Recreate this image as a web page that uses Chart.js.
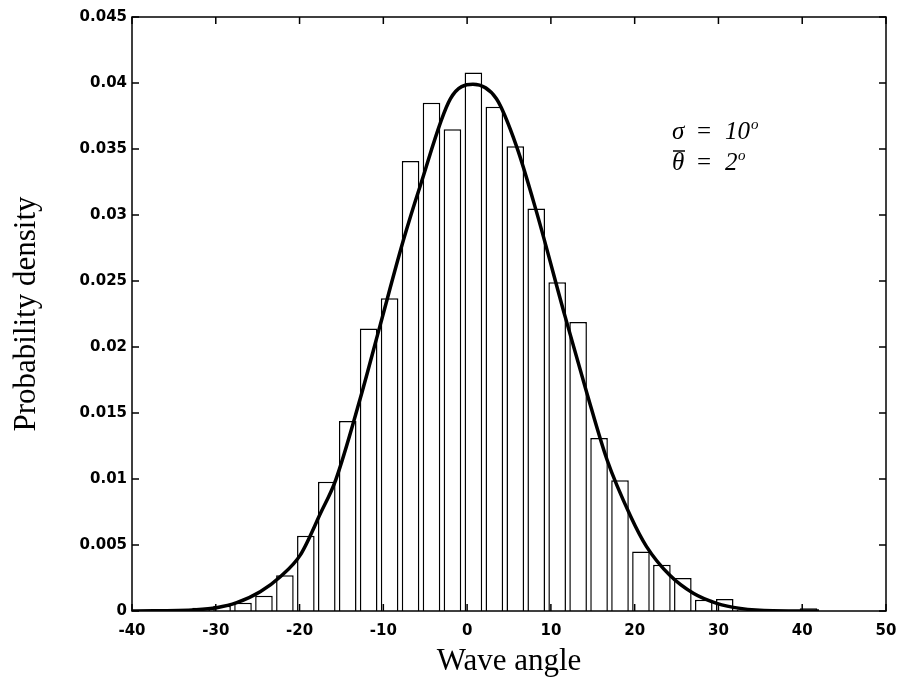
<!DOCTYPE html>
<html>
<head>
<meta charset="utf-8">
<script src="https://cdn.jsdelivr.net/npm/chart.js@4.4.1/dist/chart.umd.min.js"></script>
<style>
  html, body { margin: 0; padding: 0; background: #fff; }
  #wrap { width: 901px; height: 683px; }
</style>
</head>
<body>
<div id="wrap"><canvas id="waveChart" width="901" height="683"></canvas></div>
<script>
// histogram bins (centre of each bin, degrees) and their heights
const binCentres = [-31.75, -29.25, -26.75, -24.25, -21.75, -19.25, -16.75, -14.25, -11.75, -9.25,
                    -6.75, -4.25, -1.75, 0.75, 3.25, 5.75, 8.25, 10.75, 13.25, 15.75,
                    18.25, 20.75, 23.25, 25.75, 28.25, 30.75, 33.25, 35.75, 38.25, 40.75];
const binDensity = [0.00025, 0.0004, 0.00063, 0.00115, 0.0027, 0.0057, 0.0098, 0.0144, 0.0214, 0.0237,
                    0.0341, 0.0385, 0.0365, 0.0408, 0.0382, 0.0352, 0.0305, 0.0249, 0.0219, 0.0131,
                    0.0099, 0.0045, 0.0035, 0.0025, 0.00085, 0.0009, 0.00012, 0.0001, 0.00005, 0.0002];

// fitted curve, points
const curveAngle = [-40, -32.3, -29.9, -27.5, -24.7, -22.3, -19.9, -17.5, -15.7, -12.8, -10.4, -7.6,
                    -5.6, -2.0, 0.7, 3.5, 5.9, 8.3, 11.7, 14.3, 16.7, 19.5, 21.4, 24.2, 27.0,
                    29.8, 32.6, 36.5, 42];
const curveDensity = [0, 0.0001, 0.00025, 0.00063, 0.00146, 0.0026, 0.00425, 0.0074, 0.0099, 0.016,
                      0.0216, 0.0281, 0.0322, 0.0388, 0.0399, 0.0388, 0.0352, 0.0302, 0.0223, 0.0165,
                      0.01146, 0.0072, 0.0049, 0.0027, 0.00134, 0.00058, 0.0002, 0.00002, 0];

// axis ranges
const xTicks = [-40, -30, -20, -10, 0, 10, 20, 30, 40, 50];
const yTicks = [0, 0.005, 0.01, 0.015, 0.02, 0.025, 0.03, 0.035, 0.04, 0.045];

const tickFont = { family: 'DejaVu Sans', size: 15, weight: 'bold' };
const titleFont = { family: 'Liberation Serif', size: 31 };

// box and inward ticks, like the matlab look
const framePlugin = {
    id: 'frame',
    afterDatasetsDraw(chart) {
        const { ctx, chartArea: a, scales: { x, y } } = chart;
        ctx.save();
        ctx.strokeStyle = '#000';
        ctx.lineWidth = 1.5;
        ctx.strokeRect(a.left, a.top, a.right - a.left, a.bottom - a.top);
        ctx.beginPath();
        x.ticks.forEach(t => {
            const px = x.getPixelForValue(t.value);
            ctx.moveTo(px, a.bottom); ctx.lineTo(px, a.bottom - 7);
            ctx.moveTo(px, a.top); ctx.lineTo(px, a.top + 7);
        });
        y.ticks.forEach(t => {
            const py = y.getPixelForValue(t.value);
            ctx.moveTo(a.left, py); ctx.lineTo(a.left + 7, py);
            ctx.moveTo(a.right, py); ctx.lineTo(a.right - 7, py);
        });
        ctx.stroke();

        // sigma / mean label
        const lx = a.left + 540, ly = a.top + 122;
        ctx.fillStyle = '#000';
        ctx.textBaseline = 'alphabetic';
        ctx.font = 'italic 25px "Liberation Serif"';
        ctx.fillText('\u03c3', lx, ly);
        ctx.fillText('\u03b8', lx, ly + 31);
        ctx.font = '25px "Liberation Serif"';
        ctx.fillText('=', lx + 25, ly);
        ctx.fillText('=', lx + 25, ly + 31);
        ctx.font = 'italic 25px "Liberation Serif"';
        ctx.fillText('10', lx + 53, ly);
        ctx.fillText('2', lx + 53, ly + 31);
        ctx.font = 'italic 15px "Liberation Serif"';
        ctx.fillText('o', lx + 79, ly - 10);
        ctx.fillText('o', lx + 66, ly + 21);
        // bar over theta
        ctx.lineWidth = 1.5;
        ctx.beginPath();
        ctx.moveTo(lx + 1, ly + 12);
        ctx.lineTo(lx + 13, ly + 12);
        ctx.stroke();
        ctx.restore();
    }
};

const ctx = document.getElementById('waveChart').getContext('2d');

new Chart(ctx, {
    type: 'bar',
    data: {
        datasets: [
            {
                type: 'line',
                label: 'Gaussian fit',
                data: curveAngle.map((a, i) => ({ x: a, y: curveDensity[i] })),
                borderColor: '#000',
                borderWidth: 3.5,
                pointRadius: 0,
                fill: false,
                cubicInterpolationMode: 'monotone',
                order: 0
            },
            {
                label: 'Measured',
                data: binCentres.map((c, i) => ({ x: c, y: binDensity[i] })),
                backgroundColor: '#fff',
                borderColor: '#000',
                borderWidth: 1.5,
                barPercentage: 0.84,
                categoryPercentage: 1.0,
                order: 1
            }
        ]
    },
    options: {
        responsive: false,
        animation: false,
        layout: { padding: { left: 0, right: 15, top: 17, bottom: 0 } },
        plugins: {
            legend: { display: false },
            tooltip: { enabled: false }
        },
        scales: {
            x: {
                type: 'linear',
                min: xTicks[0],
                max: xTicks[xTicks.length - 1],
                offset: false,
                grid: { display: false, drawTicks: false, offset: false },
                border: { display: false },
                afterBuildTicks: s => { s.ticks = xTicks.map(v => ({ value: v })); },
                afterFit: s => { s.height = 72; s.paddingLeft = 0; s.paddingRight = 0; },
                ticks: { color: '#000', font: tickFont, padding: 11, maxRotation: 0 },
                title: { display: true, text: 'Wave angle', color: '#000', font: titleFont, padding: { top: 0, bottom: 3 } }
            },
            y: {
                min: 0,
                max: 0.045,
                grid: { display: false, drawTicks: false },
                border: { display: false },
                afterBuildTicks: s => { s.ticks = yTicks.map(v => ({ value: v })); },
                afterFit: s => { s.width = 132; },
                ticks: { color: '#000', font: tickFont, padding: 5, callback: v => String(+v.toFixed(3)) },
                title: { display: true, text: 'Probability density', color: '#000', font: titleFont, padding: { top: 8, bottom: 0 } }
            }
        }
    },
    plugins: [framePlugin]
});
</script>
</body>
</html>
